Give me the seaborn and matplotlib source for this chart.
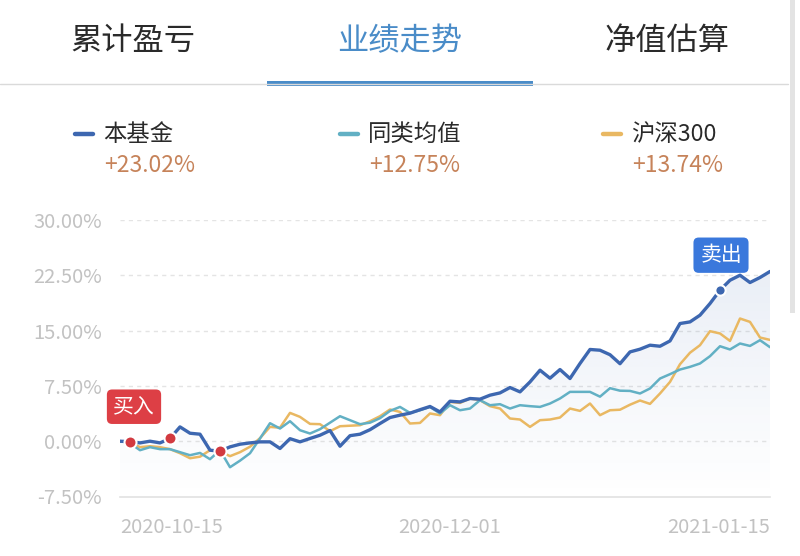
import numpy as np
import pandas as pd
import matplotlib
matplotlib.use("Agg")
import matplotlib.pyplot as plt
import seaborn as sns
from matplotlib.patches import Rectangle
from matplotlib.lines import Line2D
import matplotlib.colors as mcolors

# ---------------- data ----------------
tabs = ["累计盈亏", "业绩走势", "净值估算"]
series_names = ["本基金", "同类均值", "沪深300"]
series_totals = ["+23.02%", "+12.75%", "+13.74%"]

fund = [0.00, -0.07, -0.23, 0.00, -0.23, 0.37, 1.94, 1.08, 0.95, -1.22, -1.36, -0.77,
        -0.41, -0.23, -0.09, -0.09, -0.99, 0.34, -0.09, 0.37, 0.81, 1.45, -0.68, 0.75,
        0.95, 1.56, 2.40, 3.21, 3.53, 3.80, 4.27, 4.71, 3.97, 5.42, 5.33, 5.79, 5.70,
        6.24, 6.55, 7.28, 6.69, 8.04, 9.63, 8.54, 9.72, 8.50, 10.54, 12.44, 12.34, 11.73,
        10.51, 12.11, 12.48, 13.02, 12.88, 13.60, 15.96, 16.18, 17.09, 18.67, 20.48,
        21.83, 22.51, 21.52, 22.20, 23.02]
peer_avg = [0.00, -0.27, -1.22, -0.81, -1.08, -1.08, -1.49, -1.90, -1.59, -2.44, -1.22,
            -3.53, -2.64, -1.63, 0.37, 2.44, 1.72, 2.71, 1.49, 1.04, 1.63, 2.51, 3.39,
            2.85, 2.31, 2.51, 3.12, 4.11, 4.65, 3.84, 4.20, 4.65, 3.76, 4.88, 4.20, 4.43,
            5.56, 4.88, 5.02, 4.43, 4.88, 4.75, 4.65, 5.11, 5.79, 6.69, 6.69, 6.69, 6.04,
            7.19, 6.85, 6.82, 6.47, 7.15, 8.50, 9.09, 9.72, 10.08, 10.54, 11.53, 12.88,
            12.44, 13.25, 12.92, 13.70, 12.75]
hs300 = [0.00, -0.14, -0.81, -0.68, -0.81, -1.08, -1.63, -2.31, -2.10, -1.22, -1.36,
         -2.03, -1.49, -0.75, 0.41, 1.94, 1.83, 3.84, 3.30, 2.35, 2.31, 1.36, 2.03, 2.10,
         2.17, 2.71, 3.39, 4.30, 3.97, 2.40, 2.48, 3.76, 3.53, 5.33, 5.19, 5.79, 5.56,
         4.75, 4.43, 3.08, 2.94, 1.94, 2.85, 2.94, 3.21, 4.43, 4.11, 5.11, 3.53, 4.20,
         4.27, 4.95, 5.52, 5.06, 6.47, 8.04, 10.44, 12.00, 13.02, 14.92, 14.61, 13.60,
         16.64, 16.18, 14.06, 13.74]

buy_idx = [1, 5, 10]
sell_idx = [60]
y_ticks = [-7.5, 0.0, 7.5, 15.0, 22.5, 30.0]
x_tick_idx = [0, 33, 65]
x_tick_labels = ["2020-10-15", "2020-12-01", "2021-01-15"]

# ---------------- style ----------------
sns.set_theme(style="white")
plt.rcParams["font.family"] = ["Noto Sans CJK SC", "DejaVu Sans"]
plt.rcParams["axes.unicode_minus"] = False

C_FUND = "#3d67b0"
C_AVG = "#62b0c4"
C_HS = "#e9b862"
C_TEXT = "#2a2a2a"
C_TAB = "#4a8cc8"
C_GAIN = "#c6835a"
C_AXIS = "#c2c2c2"

W, H = 800, 556
fig = plt.figure(figsize=(W / 100, H / 100), dpi=100)
fig.patch.set_facecolor("white")

def fx(x):
    return x / W

def fy(y):
    return 1 - y / H

# ---------------- header tabs ----------------
tab_x = [133, 400, 667]
for i, (t, xc) in enumerate(zip(tabs, tab_x)):
    fig.text(fx(xc), fy(41), t, ha="center", va="center", fontsize=22.5,
             color=C_TAB if i == 1 else C_TEXT)
fig.add_artist(Line2D([fx(0), fx(788)], [fy(84), fy(84)], color="#dadada", lw=1.0))
fig.add_artist(Rectangle((fx(267), fy(85.5)), fx(533) - fx(267), 4.5 / H,
                         facecolor=C_TAB, edgecolor="none"))
# scrollbar
fig.add_artist(Rectangle((fx(789.5), fy(313)), 5 / W, 313 / H,
                         facecolor="#e3e3e3", edgecolor="none"))

# ---------------- legend ----------------
leg_x = [75, 340, 603]
leg_colors = [C_FUND, C_AVG, C_HS]
for name, tot, lx, c in zip(series_names, series_totals, leg_x, leg_colors):
    fig.add_artist(Line2D([fx(lx), fx(lx + 18)], [fy(134), fy(134)], color=c, lw=3.2,
                          solid_capstyle="round"))
    fig.text(fx(lx + 28), fy(134), name, ha="left", va="center", fontsize=16.8, color=C_TEXT)
    fig.text(fx(lx + 29), fy(166), tot, ha="left", va="center", fontsize=16.5, color=C_GAIN)

# ---------------- chart ----------------
ax = fig.add_axes([fx(120), fy(496.5), fx(770) - fx(120), (496.5 - 220) / H])
n = len(fund)
idx = np.arange(n)

# gradient fill under fund line
poly = ax.fill_between(idx, fund, -7.5, color="none", lw=0)
rgb = mcolors.to_rgb(C_FUND)
alpha = np.linspace(0.11, 0.0, 256)
img = np.zeros((256, 1, 4))
img[:, 0, :3] = rgb
img[:, 0, 3] = alpha
im = ax.imshow(img, extent=[0, n - 1, -7.5, max(fund)], aspect="auto",
               origin="upper", zorder=1, interpolation="bilinear")
im.set_clip_path(poly.get_paths()[0], transform=ax.transData)

# grid
for v in y_ticks[1:]:
    ax.axhline(v, color="#e4e4e4", lw=1.0, ls=(0, (3, 3)), zorder=0.5)

df_hs = pd.DataFrame({"idx": idx, "value": hs300})
df_avg = pd.DataFrame({"idx": idx, "value": peer_avg})
df_fund = pd.DataFrame({"idx": idx, "value": fund})
sns.lineplot(data=df_hs, x="idx", y="value", color=C_HS, lw=1.8, ax=ax, zorder=3)
sns.lineplot(data=df_avg, x="idx", y="value", color=C_AVG, lw=1.8, ax=ax, zorder=3.5)
sns.lineplot(data=df_fund, x="idx", y="value", color=C_FUND, lw=2.4, ax=ax, zorder=4)

# buy / sell markers
bx = [idx[i] for i in buy_idx]
by = [fund[i] for i in buy_idx]
ax.scatter(bx, by, s=75, color="#d23a40", edgecolor="white", linewidth=1.5, zorder=6)
sx = [idx[i] for i in sell_idx]
sy = [fund[i] for i in sell_idx]
ax.scatter(sx, sy, s=55, color=C_FUND, edgecolor="white", linewidth=1.5, zorder=6)

ax.annotate("买入", xy=(bx[0], by[0]), xytext=(4, 35), textcoords="offset pixels",
            ha="center", va="center", fontsize=15, color="white", zorder=7,
            bbox=dict(boxstyle="round,pad=0.3,rounding_size=0.25", fc="#dd3f45", ec="none"))
ax.annotate("卖出", xy=(sx[0], sy[0]), xytext=(1, 35), textcoords="offset pixels",
            ha="center", va="center", fontsize=15, color="white", zorder=7,
            bbox=dict(boxstyle="round,pad=0.32,rounding_size=0.25", fc="#3a78dc", ec="none"))

ax.set_xlim(0, n - 1)
ax.set_ylim(-7.5, 30)
ax.set_xlabel("")
ax.set_ylabel("")
ax.set_facecolor("none")
for s in ["top", "right", "left"]:
    ax.spines[s].set_visible(False)
ax.spines["bottom"].set_color("#e2e2e2")
ax.spines["bottom"].set_linewidth(1.2)

ax.set_yticks(y_ticks)
ax.set_yticklabels([f"{v:.2f}%" for v in y_ticks])
ax.tick_params(axis="y", length=0, pad=13, labelsize=14.5, labelcolor=C_AXIS)
ax.set_xticks([idx[i] for i in x_tick_idx])
ax.set_xticklabels(x_tick_labels)
ax.set_xticks([0, n - 1], minor=True)
ax.tick_params(axis="x", which="major", length=0, pad=15, labelsize=14.5, labelcolor=C_AXIS)
ax.tick_params(axis="x", which="minor", length=4, width=1.2, color="#e2e2e2", direction="out")
labs = ax.get_xticklabels()
labs[0].set_ha("left")
labs[1].set_ha("center")
labs[2].set_ha("right")

fig.savefig("out.png", dpi=100, facecolor="white")
